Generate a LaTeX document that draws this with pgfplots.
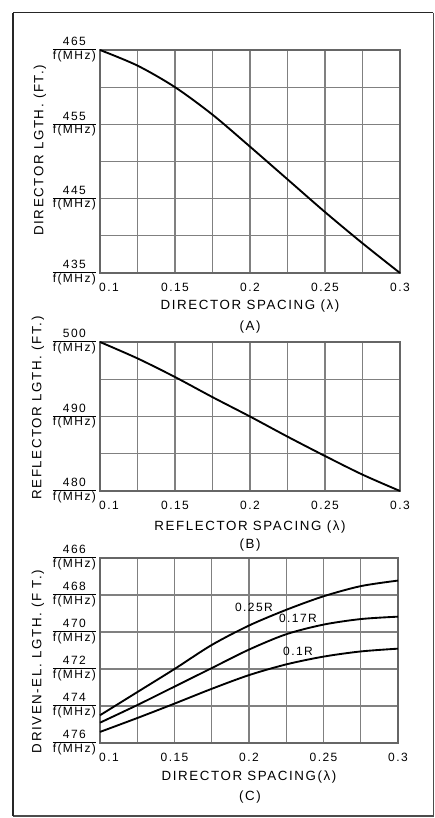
\documentclass[border=0pt]{standalone}
\usepackage{pgfplots}
\pgfplotsset{compat=1.18}
\usepackage{fontspec}
\setmainfont{Liberation Sans}[LetterSpace=12]
\setlength{\arrayrulewidth}{0.8pt}
\renewcommand{\arraystretch}{0.95}
\newcommand{\fr}[1]{\begin{tabular}{@{}c@{}}#1\rule[-2pt]{0pt}{2pt}\\\hline f(MHz)\end{tabular}}
\newcommand{\tfont}{\fontsize{9}{9.5}\selectfont}
\newcommand{\lfont}{\fontsize{10}{11}\selectfont}
\pgfplotsset{
  crv/.style={black, line width=1.4pt, smooth, no marks},
  myax/.style={
    scale only axis, width=225pt,
    anchor=south west,
    xmin=0.1, xmax=0.3,
    xtick={0.1,0.125,0.15,0.175,0.2,0.225,0.25,0.275,0.3},
    xticklabels={\hspace*{13.5pt}0.1,,0.15,,0.2,,0.25,,0.3},
    grid=major,
    major tick length=0pt,
    tick style={draw=none},
    major grid style={line width=0.8pt, black!50},
    axis line style={line width=0.9pt, black!60},
    xticklabel style={font=\tfont, anchor=center, yshift=-11pt},
    yticklabel style={font=\tfont, anchor=east, xshift=0.5pt},
    xlabel style={font=\lfont, at={(axis description cs:0.5,0)}, anchor=center},
    ylabel style={font=\lfont, anchor=center, rotate=0},
    clip=false,
  }
}
\begin{document}
\begin{tikzpicture}
\useasboundingbox (0,0) rectangle (326.25pt,-613.5pt);
% outer frame
\draw[line width=1.3pt, black!85] (9.75pt,-9.4pt) -- (324.9pt,-9.4pt);
\draw[line width=1.0pt, black!70] (324.9pt,-9.4pt) -- (324.9pt,-612pt) -- (9.75pt,-612pt);
\draw[line width=2pt, black!85] (9.75pt,-9.4pt) -- (9.75pt,-612pt);

% (A)
\begin{axis}[myax, at={(75pt,-204.75pt)}, height=167.25pt,
  ymin=435, ymax=465,
  ytick={435,440,445,450,455,460,465},
  yticklabels={{\fr{435}},,{\fr{445}},,{\fr{455}},,{\fr{465}}},
  xlabel={DIRECTOR SPACING (λ)},
  xlabel style={yshift=-24.75pt},
  ylabel={DIRECTOR LGTH. (FT.)},
  ylabel style={at={(axis description cs:-0.2,0.55)}},
]
\addplot[crv] coordinates {(0.1,465.0) (0.125,462.9) (0.15,460.0) (0.175,456.3) (0.2,452.0) (0.225,447.6) (0.25,443.2) (0.275,439.0) (0.3,435.0)};
\end{axis}
\node[font=\lfont] at (187.5pt,-245.25pt) {(A)};

% (B)
\begin{axis}[myax, at={(75pt,-368.25pt)}, height=111.75pt,
  ymin=480, ymax=500,
  ytick={480,485,490,495,500},
  yticklabels={{\fr{480}},,{\fr{490}},,{\fr{500}}},
  xlabel={REFLECTOR SPACING (λ)},
  xlabel style={yshift=-27pt},
  ylabel={REFLECTOR LGTH. (FT.)},
  ylabel style={at={(axis description cs:-0.207,0.557)}},
]
\addplot[crv] coordinates {(0.1,500.0) (0.125,497.8) (0.15,495.3) (0.175,492.6) (0.2,490.0) (0.225,487.3) (0.25,484.7) (0.275,482.2) (0.3,480.0)};
\end{axis}
\node[font=\lfont] at (187.5pt,-408.75pt) {(B)};

% (C)
\begin{axis}[myax, at={(75pt,-557.25pt)}, height=138.75pt, width=223.5pt,
  y dir=reverse,
  ymin=466, ymax=476,
  ytick={466,468,470,472,474,476},
  yticklabels={{\fr{466}},{\fr{468}},{\fr{470}},{\fr{472}},{\fr{474}},{\fr{476}}},
  xlabel={DIRECTOR SPACING(λ)},
  xlabel style={yshift=-25.5pt},
  ylabel={DRIVEN-EL. LGTH. (F T.)},
  ylabel style={at={(axis description cs:-0.208,0.44)}},
]
\addplot[crv] coordinates {(0.1,474.5) (0.125,473.25) (0.15,472.0) (0.175,470.7) (0.2,469.65) (0.225,468.8) (0.25,468.07) (0.275,467.52) (0.3,467.22)};
\addplot[crv] coordinates {(0.1,474.9) (0.125,473.95) (0.15,472.95) (0.175,471.95) (0.2,470.95) (0.225,470.12) (0.25,469.6) (0.275,469.3) (0.3,469.17)};
\addplot[crv] coordinates {(0.1,475.4) (0.125,474.65) (0.15,473.87) (0.175,473.07) (0.2,472.33) (0.225,471.75) (0.25,471.33) (0.275,471.05) (0.3,470.9)};
\end{axis}
\node[font=\tfont] at (190.5pt,-455.6pt) {0.25R};
\node[font=\tfont] at (223.5pt,-463.5pt) {0.17R};
\node[font=\tfont] at (223.5pt,-488.6pt) {0.1R};
\node[font=\lfont] at (187.5pt,-597.75pt) {(C)};
\end{tikzpicture}
\end{document}
